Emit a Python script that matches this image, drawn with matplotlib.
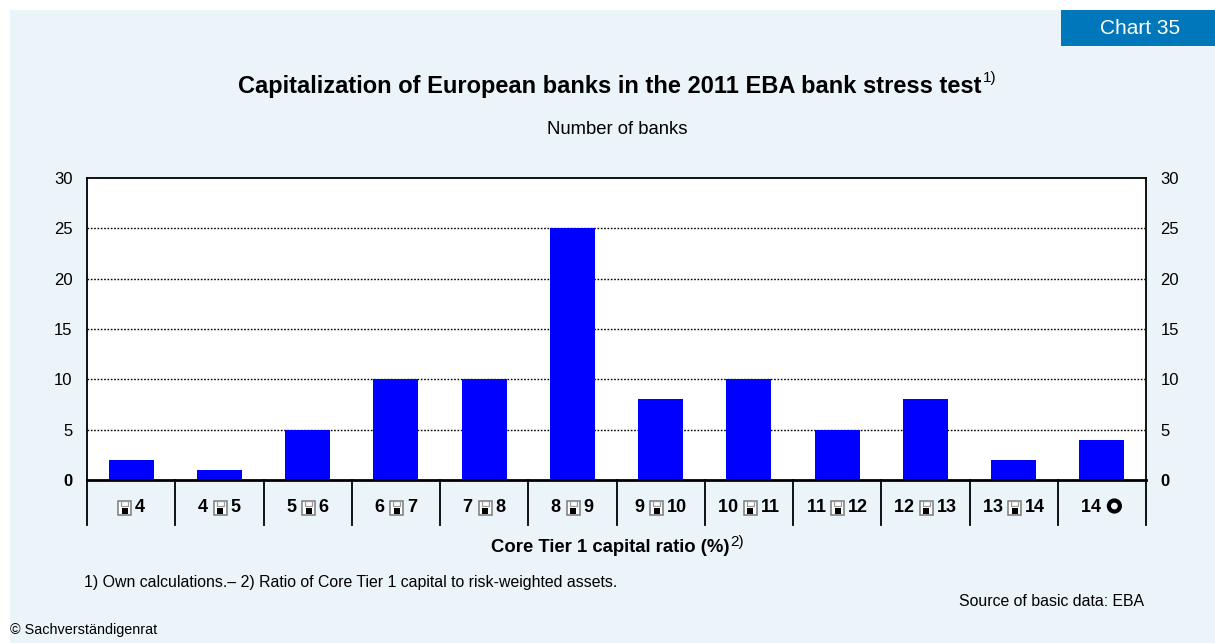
import matplotlib
matplotlib.use("Agg")
import matplotlib.pyplot as plt
from matplotlib.patches import Rectangle, Circle
import matplotlib.transforms as mtransforms

plt.rcParams['font.family'] = ['Liberation Sans', 'DejaVu Sans']

# label parts: text left of the symbol, symbol, text right of the symbol
# ('floppy' = the glyph the reference shows in place of "<", 'ring' = heavy circle)
left_parts = ['', '4 ', '5 ', '6 ', '7 ', '8 ', '9 ', '10 ', '11 ', '12 ', '13 ', '14 ']
symbols = ['floppy'] * 11 + ['ring']
right_parts = ['4', '5', '6', '7', '8', '9', '10', '11', '12', '13', '14', '']
banks = [2, 1, 5, 10, 10, 25, 8, 10, 5, 8, 2, 4]
yticks = [0, 5, 10, 15, 20, 25, 30]

W, H = 1215, 643
bg = '#EBF4F8'
fig = plt.figure(figsize=(W / 100, H / 100), dpi=100, facecolor='white')
fig.patches.append(Rectangle((10 / W, 0), 1 - 10 / W, 1 - 10 / H,
                             transform=fig.transFigure, facecolor=bg, edgecolor='none', zorder=-10))
fig.patches.append(Rectangle((1061 / W, 1 - 46 / H), 154 / W, 36 / H,
                             transform=fig.transFigure, facecolor='#0077BB', edgecolor='none', zorder=-5))
fig.text(1140 / W, 1 - 28 / H, 'Chart 35', color='white', fontsize=15, ha='center', va='center')

ax = fig.add_axes([87 / W, 1 - 480 / H, (1146 - 87) / W, (480 - 178) / H])
ax.set_facecolor('white')
x = list(range(len(banks)))
ax.bar(x, banks, width=0.51, color='#0000FF', zorder=3)
ax.set_xlim(-0.5, len(banks) - 0.5)
ax.set_ylim(0, 30)
ax.set_yticks(yticks)
for y in yticks[1:-1]:
    ax.axhline(y, color='black', linestyle=(0, (1.2, 1.2)), linewidth=1.0, zorder=1)
for s in ax.spines.values():
    s.set_linewidth(1.3)
ax.spines['bottom'].set_linewidth(2)
ax.spines['bottom'].set_zorder(4)

ax.tick_params(axis='y', which='both', left=False, right=False, labelleft=True, labelright=True,
               labelsize=12, pad=7)
ax.yaxis.get_major_ticks()[0].label1.set_fontweight('bold')
ax.yaxis.get_major_ticks()[0].label2.set_fontweight('bold')
ax.set_xticks([])

# separators below the axis
trans = mtransforms.blended_transform_factory(ax.transData, ax.transAxes)
for xs in [i - 0.5 for i in range(len(banks) + 1)]:
    ax.plot([xs, xs], [0, -45 / 302], color='black', linewidth=1.3, transform=trans, clip_on=False)

# category labels: text pieces plus drawn symbols, laid out in pixels
renderer = fig.canvas.get_renderer()
pix = mtransforms.IdentityTransform()
lab_fs = 13
lab_y = H - 507


def text_width(s):
    if not s:
        return 0.0
    t = fig.text(0, 0, s, fontsize=lab_fs, fontweight='bold')
    w = t.get_window_extent(renderer).width
    t.remove()
    return w


for i in x:
    cx = ax.transData.transform((i, 0))[0]
    wl = text_width(left_parts[i])
    wr = text_width(right_parts[i])
    sym_w = 14 if symbols[i] == 'floppy' else 16
    gap = 3 if right_parts[i] else 0
    total = wl + sym_w + gap + wr
    x0 = cx - total / 2
    if left_parts[i]:
        fig.text(x0, lab_y, left_parts[i], fontsize=lab_fs, fontweight='bold',
                 ha='left', va='center', transform=pix)
    sx = x0 + wl
    if symbols[i] == 'floppy':
        fig.patches.append(Rectangle((sx + 0.5, lab_y - 7.5), 13, 14, transform=pix,
                                     facecolor='white', edgecolor='#7a7a7a', linewidth=1.1))
        fig.patches.append(Rectangle((sx + 3.5, lab_y + 1), 7, 5, transform=pix,
                                     facecolor='none', edgecolor='#9a9a9a', linewidth=0.9))
        fig.patches.append(Rectangle((sx + 4, lab_y - 7), 6, 6, transform=pix,
                                     facecolor='black', edgecolor='none'))
    else:
        fig.patches.append(Circle((sx + 8, lab_y + 1), 5.5, transform=pix,
                                  facecolor='none', edgecolor='black', linewidth=3.0))
    if right_parts[i]:
        fig.text(sx + sym_w + gap, lab_y, right_parts[i], fontsize=lab_fs, fontweight='bold',
                 ha='left', va='center', transform=pix)


def text_with_sup(xc, y, main, sup, fs, weight, sup_fs):
    t = fig.text(0, 0, main, fontsize=fs, fontweight=weight)
    wm = t.get_window_extent(renderer).width
    t.remove()
    s = fig.text(0, 0, sup, fontsize=sup_fs)
    ws = s.get_window_extent(renderer).width
    s.remove()
    x0 = xc - (wm + ws) / 2
    fig.text(x0, y, main, fontsize=fs, fontweight=weight, ha='left', va='center', transform=pix)
    fig.text(x0 + wm + 1, y + fs * 0.45, sup, fontsize=sup_fs, ha='left', va='center', transform=pix)


text_with_sup(617, H - 86, 'Capitalization of European banks in the 2011 EBA bank stress test', '1)',
              17, 'bold', 11)
fig.text(617 / W, 1 - 130 / H, 'Number of banks', fontsize=13.3, ha='center', va='center')
text_with_sup(617, H - 548, 'Core Tier 1 capital ratio (%)', '2)', 13.3, 'bold', 11)
fig.text(84 / W, 1 - 583 / H, '1) Own calculations.\u2013 2) Ratio of Core Tier 1 capital to risk-weighted assets.',
         fontsize=11.4, ha='left', va='center')
fig.text(1144 / W, 1 - 602 / H, 'Source of basic data: EBA', fontsize=11.4, ha='right', va='center')
fig.text(10 / W, 1 - 630 / H, '\u00a9 Sachverst\u00e4ndigenrat', fontsize=10.4, ha='left', va='center')

fig.savefig('out.png', dpi=100, facecolor=fig.get_facecolor())
